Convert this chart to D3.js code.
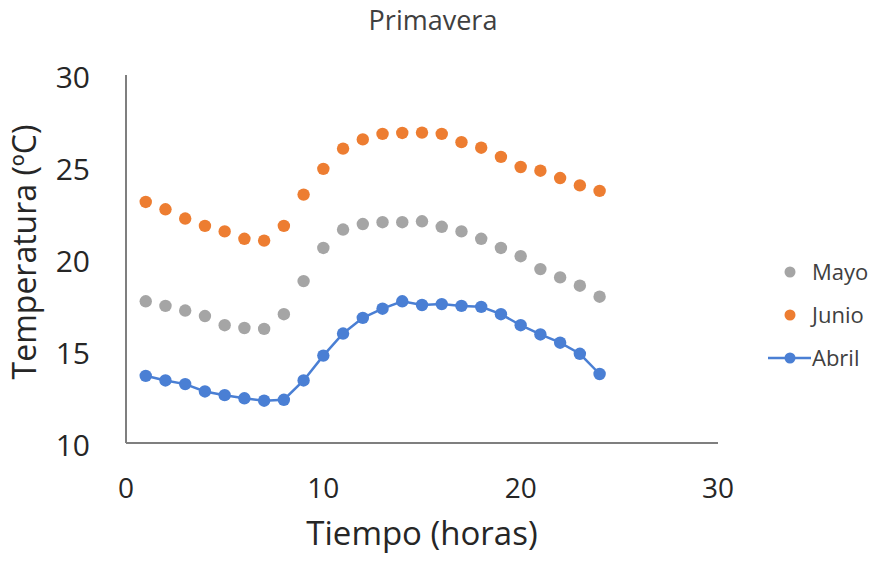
<!DOCTYPE html>
<html lang="es">
<head>
  <meta charset="UTF-8" />
  <title>Primavera</title>
  <script src="https://d3js.org/d3.v7.min.js"></script>
  <style>
    body { margin: 0; background: #fff; }
    svg { font-family: "Open Sans", "Liberation Sans", sans-serif; }
  </style>
</head>
<body>
  <div id="chart"></div>
  <script>
    // ----- Data -----
    const hours = [1,2,3,4,5,6,7,8,9,10,11,12,13,14,15,16,17,18,19,20,21,22,23,24];
    const mayo  = [17.7,17.45,17.2,16.9,16.4,16.25,16.2,17.0,18.8,20.6,21.6,21.9,22.0,22.0,22.05,21.75,21.5,21.1,20.6,20.15,19.45,19.0,18.55,17.95];
    const junio = [23.1,22.7,22.2,21.8,21.5,21.1,21.0,21.8,23.5,24.9,26.0,26.5,26.8,26.85,26.87,26.8,26.35,26.05,25.55,25.0,24.8,24.4,24.0,23.7];
    const abril = [13.65,13.4,13.2,12.8,12.6,12.43,12.3,12.35,13.4,14.75,15.95,16.8,17.3,17.7,17.5,17.55,17.45,17.4,17.0,16.4,15.9,15.45,14.85,13.75];
    const xTicks = [0, 10, 20, 30];
    const yTicks = [10, 15, 20, 25, 30];

    const W = 880, H = 561;
    const svg = d3.select('#chart').append('svg').attr('width', W).attr('height', H);

    const x = d3.scaleLinear().domain([0, 30]).range([126, 718]);
    const y = d3.scaleLinear().domain([10, 30]).range([443, 75]);

    // ----- Axes -----
    const axisColor = '#7f7f7f';
    svg.append('line')
      .attr('x1', x(0)).attr('x2', x(0)).attr('y1', y(30)).attr('y2', y(10))
      .attr('stroke', axisColor).attr('stroke-width', 2);
    svg.append('line')
      .attr('x1', x(0)).attr('x2', x(30)).attr('y1', y(10)).attr('y2', y(10))
      .attr('stroke', axisColor).attr('stroke-width', 2);

    svg.selectAll('.ytick').data(yTicks).enter().append('text')
      .attr('x', 90).attr('y', d => y(d) + 2)
      .attr('dy', '0.35em')
      .attr('text-anchor', 'end')
      .attr('font-size', 30)
      .attr('fill', '#262626')
      .text(d => d);

    svg.selectAll('.xtick').data(xTicks).enter().append('text')
      .attr('x', d => x(d)).attr('y', 498)
      .attr('text-anchor', 'middle')
      .attr('font-size', 28)
      .attr('fill', '#262626')
      .text(d => d);

    // ----- Titles -----
    svg.append('text')
      .attr('x', 433).attr('y', 30)
      .attr('text-anchor', 'middle')
      .attr('font-size', 27)
      .attr('fill', '#404040')
      .text('Primavera');

    svg.append('text')
      .attr('x', 422).attr('y', 545)
      .attr('text-anchor', 'middle')
      .attr('font-size', 33)
      .attr('fill', '#262626')
      .text('Tiempo (horas)');

    svg.append('text')
      .attr('transform', 'translate(36,252) rotate(-90)')
      .attr('text-anchor', 'middle')
      .attr('font-size', 32)
      .attr('fill', '#262626')
      .text('Temperatura (ºC)');

    // ----- Series -----
    const colors = { mayo: '#A5A5A5', junio: '#ED7D31', abril: '#4A7FD4' };
    const r = 6.2;

    svg.append('path')
      .datum(hours.map((h, i) => [h, abril[i]]))
      .attr('fill', 'none')
      .attr('stroke', colors.abril)
      .attr('stroke-width', 2.5)
      .attr('d', d3.line().x(d => x(d[0])).y(d => y(d[1])));

    [['mayo', mayo], ['junio', junio], ['abril', abril]].forEach(([key, vals]) => {
      svg.append('g').selectAll('circle')
        .data(hours.map((h, i) => [h, vals[i]]))
        .enter().append('circle')
        .attr('cx', d => x(d[0]))
        .attr('cy', d => y(d[1]))
        .attr('r', r)
        .attr('fill', colors[key]);
    });

    // ----- Legend -----
    const legend = [
      { name: 'Mayo', key: 'mayo', line: false, y: 272 },
      { name: 'Junio', key: 'junio', line: false, y: 315 },
      { name: 'Abril', key: 'abril', line: true, y: 358 }
    ];
    legend.forEach(l => {
      if (l.line) {
        svg.append('line')
          .attr('x1', 768).attr('x2', 811).attr('y1', l.y).attr('y2', l.y)
          .attr('stroke', colors[l.key]).attr('stroke-width', 2.5);
      }
      svg.append('circle')
        .attr('cx', 790).attr('cy', l.y).attr('r', 5.5)
        .attr('fill', colors[l.key]);
      svg.append('text')
        .attr('x', 812).attr('y', l.y)
        .attr('dy', '0.35em')
        .attr('font-size', 22)
        .attr('fill', '#404040')
        .text(l.name);
    });
  </script>
</body>
</html>
